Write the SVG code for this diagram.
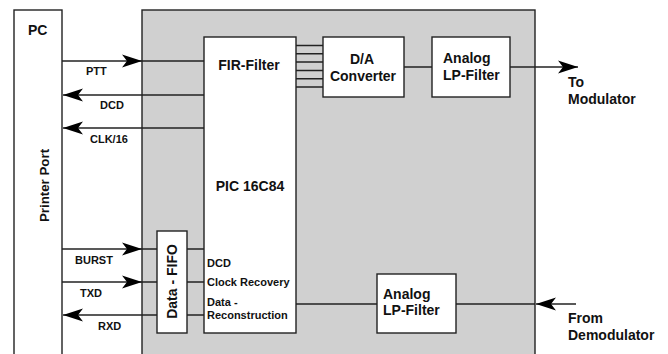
<svg xmlns="http://www.w3.org/2000/svg" width="668" height="354" viewBox="0 0 668 354">
<defs>
<style>
.box{fill:#fff;stroke:#222;stroke-width:1.4}
.gray{fill:#d0d0d0;stroke:#222;stroke-width:1.4}
.ln{fill:none;stroke:#222;stroke-width:1.5}
.t{font-family:"Liberation Sans",Arial,sans-serif;font-weight:bold;fill:#111}
.big{font-size:14px}
.sm{font-size:11px}
.mid{text-anchor:middle}
</style>
<marker id="ah" viewBox="-20 -7 20 14" refX="0" refY="0" markerWidth="20" markerHeight="14" markerUnits="userSpaceOnUse" orient="auto">
<path d="M0,0 L-20,-6.5 L-15,0 L-20,6.5 Z" fill="#000"/>
</marker>
</defs>
<g id="board"><rect class="gray" x="142" y="10" width="393" height="360"/></g>
<g id="pc">
<rect class="box" x="14" y="10" width="48" height="360"/>
<text class="t big" x="28" y="35">PC</text>
<text class="t" font-size="13.3" text-anchor="middle" transform="translate(49,185.5) rotate(-90)">Printer Port</text>
</g>
<g id="pic">
<rect class="box" x="204" y="37" width="92" height="296"/>
<text class="t big mid" x="249" y="70">FIR-Filter</text>
<text class="t big mid" x="250" y="190.5">PIC 16C84</text>
<text class="t sm" x="207" y="266.5">DCD</text>
<text class="t sm" x="207" y="286">Clock Recovery</text>
<text class="t sm" x="207" y="305.5">Data -</text>
<text class="t sm" x="207" y="319">Reconstruction</text>
</g>
<g id="fifo">
<rect class="box" x="157" y="231" width="30" height="102"/>
<text class="t big mid" transform="translate(176.5,281.5) rotate(-90)">Data - FIFO</text>
</g>
<g id="dac">
<rect class="box" x="323" y="37" width="81" height="60"/>
<text class="t big mid" x="362" y="64">D/A</text>
<text class="t big mid" x="363" y="81">Converter</text>
</g>
<g id="lpf-tx">
<rect class="box" x="432" y="37" width="78" height="60"/>
<text class="t big" x="443" y="63">Analog</text>
<text class="t big" x="443" y="80">LP-Filter</text>
</g>
<g id="lpf-rx">
<rect class="box" x="377" y="274" width="79" height="59"/>
<text class="t big" x="383" y="299">Analog</text>
<text class="t big" x="383" y="315">LP-Filter</text>
</g>
<g id="connectors">
<path class="ln" d="M62,61 H142" marker-end="url(#ah)"/>
<path class="ln" d="M142,61 H204"/>
<path class="ln" d="M204,95 H63" marker-end="url(#ah)"/>
<path class="ln" d="M204,128 H63" marker-end="url(#ah)"/>
<path class="ln" d="M62,249 H142" marker-end="url(#ah)"/>
<path class="ln" d="M142,249 H157"/>
<path class="ln" d="M62,282 H142" marker-end="url(#ah)"/>
<path class="ln" d="M142,282 H157"/>
<path class="ln" d="M157,315 H63" marker-end="url(#ah)"/>
<path class="ln" d="M187,249 H204 M187,282 H204 M187,315 H204"/>
<path class="ln" d="M296,45.5 H323 M296,53.8 H323 M296,62.1 H323 M296,70.4 H323 M296,78.7 H323 M296,87 H323"/>
<path class="ln" d="M404,67 H432"/>
<path class="ln" d="M510,67 H578" marker-end="url(#ah)"/>
<path class="ln" d="M296,304 H377"/>
<path class="ln" d="M456,304 H535"/>
<path class="ln" d="M576,304 H536" marker-end="url(#ah)"/>
</g>
<g id="labels">
<text class="t sm" x="86" y="75">PTT</text>
<text class="t sm" x="100" y="109">DCD</text>
<text class="t sm" x="90" y="143">CLK/16</text>
<text class="t sm" x="75" y="264">BURST</text>
<text class="t sm" x="80" y="297">TXD</text>
<text class="t sm" x="98" y="330">RXD</text>
<text class="t big" x="568" y="87">To</text>
<text class="t big" x="568" y="104">Modulator</text>
<text class="t big" x="568" y="323">From</text>
<text class="t big" x="568" y="340">Demodulator</text>
</g>
</svg>
